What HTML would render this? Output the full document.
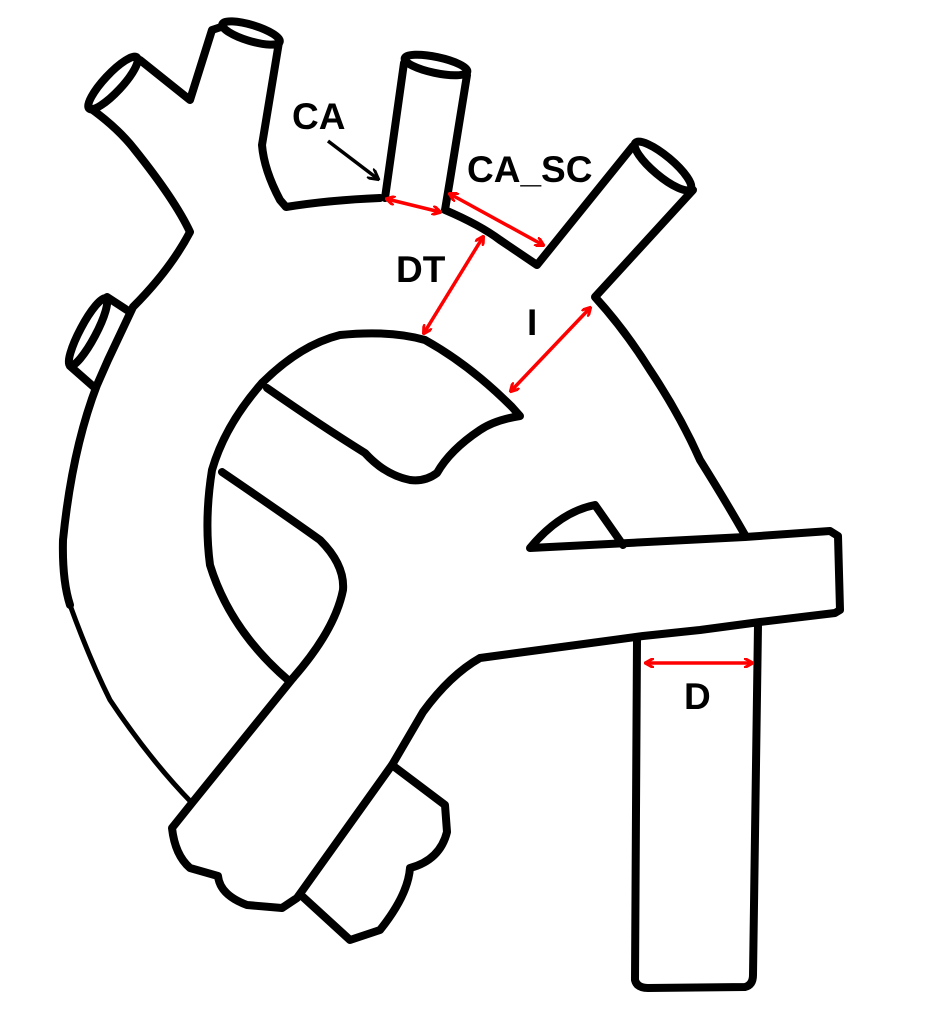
<!DOCTYPE html>
<html><head><meta charset="utf-8"><style>
html,body{margin:0;padding:0;background:#fff;}
svg{display:block;}
text{font-family:"Liberation Sans",sans-serif;font-weight:bold;fill:#000;}
</style></head><body>
<svg width="931" height="1027" viewBox="0 0 931 1027">
<defs>
<marker id="rh" markerWidth="10" markerHeight="10" refX="8" refY="5" orient="auto-start-reverse" markerUnits="userSpaceOnUse"><path d="M0,0 L9,5 L0,10" fill="none" stroke="#f00" stroke-width="3"/></marker>
<marker id="kh" markerWidth="12" markerHeight="12" refX="10" refY="6" orient="auto" markerUnits="userSpaceOnUse"><path d="M0,0 L11,6 L0,12" fill="none" stroke="#000" stroke-width="3"/></marker>
</defs>
<rect width="931" height="1027" fill="#fff"/>
<g fill="none" stroke="#000" stroke-width="8" stroke-linecap="round" stroke-linejoin="round">
<ellipse cx="113" cy="83" rx="35" ry="9" transform="rotate(-47 113 83)"/>
<path d="M140,60 L190,100 L212,30 L221,27"/>
<ellipse cx="251" cy="33" rx="30" ry="8" transform="rotate(17 251 33)"/>
<path d="M279,42 L262,145 Q264,170 280,200 L286,207 Q330,200 380,198"/>
<path d="M90,108 Q118,128 135,150 Q175,200 190,232 Q170,270 133,307 L108,360 L97,385 Q72,450 63,540 Q62,580 70,605"/>
<path stroke-width="5" d="M70,605 Q90,660 110,700 Q150,760 192,803"/>
<ellipse cx="88" cy="332" rx="38" ry="8" transform="rotate(-62 88 332)"/>
<path d="M107,297 L130,312 M70,366 L95,388"/>
<ellipse cx="436" cy="65" rx="32" ry="8" transform="rotate(12 436 65)"/>
<path d="M404,63 L385,198"/>
<path d="M467,75 L450,180 L445,210 Q480,225 500,240 L537,265 L633,146"/>
<ellipse cx="663" cy="166" rx="36" ry="10" transform="rotate(40 663 166)"/>
<path d="M693,190 L595,297 Q625,330 650,370 Q680,415 700,460 Q725,500 745,535"/>
<path d="M262,383 Q300,345 340,335 Q390,330 425,340 Q470,365 512,407 L520,416 Q495,420 480,430 Q450,450 437,473 Q425,482 410,480 Q385,475 365,453 Q320,425 267,388"/>
<path d="M262,383 Q225,425 212,470 Q204,520 210,565 Q230,630 288,680"/>
<path d="M222,472 Q285,515 320,540 Q345,565 343,590 Q335,630 293,678"/>
<path d="M293,678 L192,803 L172,828 Q175,855 190,868 L218,876 Q220,895 247,905 L282,908 L297,898 L392,765 L423,712 Q450,675 480,658 L643,636 L700,630 L760,622 L835,613 L840,610 L838,536 L830,531 L745,537 L530,548 Q560,512 595,505 L623,545"/>
<path d="M392,765 L445,805 L447,832 Q440,860 410,868 Q408,895 380,930 L350,940 L303,897"/>
<path d="M637,640 L635,980 Q637,988 648,988 L745,987 Q753,985 753,975 L758,625"/>
</g>
<g stroke="#f00" stroke-width="3.5" fill="none">
<line x1="387" y1="199" x2="440" y2="212" marker-start="url(#rh)" marker-end="url(#rh)"/>
<line x1="450" y1="194" x2="543" y2="245" marker-start="url(#rh)" marker-end="url(#rh)"/>
<line x1="483" y1="237" x2="424" y2="333" marker-start="url(#rh)" marker-end="url(#rh)"/>
<line x1="590" y1="308" x2="511" y2="391" marker-start="url(#rh)" marker-end="url(#rh)"/>
<line x1="646" y1="663" x2="752" y2="663" marker-start="url(#rh)" marker-end="url(#rh)"/>
</g>
<line x1="328" y1="141" x2="378" y2="179" stroke="#000" stroke-width="3.5" marker-end="url(#kh)"/>
<text x="292" y="129" font-size="37">CA</text>
<text x="467" y="182" font-size="37">CA_SC</text>
<text x="396" y="282" font-size="37">DT</text>
<text x="527" y="335" font-size="37">I</text>
<text x="684" y="709" font-size="37">D</text>
</svg>
</body></html>
